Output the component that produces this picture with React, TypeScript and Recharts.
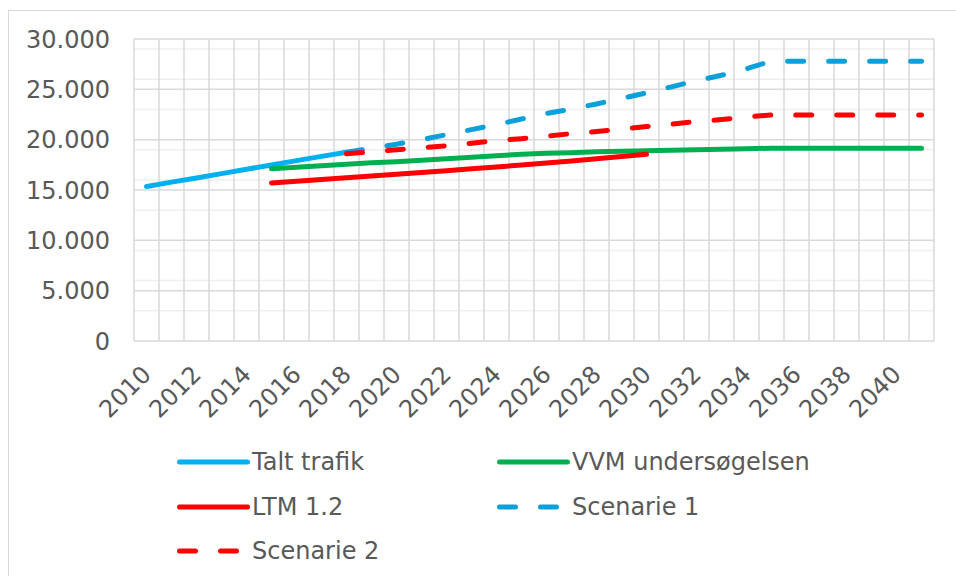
import { CartesianGrid, Line, LineChart, XAxis, YAxis } from "recharts";

const years = [
  2010, 2011, 2012, 2013, 2014, 2015, 2016, 2017, 2018, 2019, 2020, 2021, 2022, 2023, 2024, 2025,
  2026, 2027, 2028, 2029, 2030, 2031, 2032, 2033, 2034, 2035, 2036, 2037, 2038, 2039, 2040, 2041,
];
const xLabels = [2010, 2012, 2014, 2016, 2018, 2020, 2022, 2024, 2026, 2028, 2030, 2032, 2034, 2036, 2038, 2040];
const yTicks = [0, 5000, 10000, 15000, 20000, 25000, 30000];
const minorTicks = [
  1000, 2000, 3000, 4000, 6000, 7000, 8000, 9000, 11000, 12000, 13000, 14000, 16000, 17000, 18000,
  19000, 21000, 22000, 23000, 24000, 26000, 27000, 28000, 29000,
];

const _ = null;
const taltTrafik = [15350, 15780, 16200, 16630, 17060, 17490, 17920, 18340, 18750, _, _, _, _, _, _, _, _, _, _, _, _, _, _, _, _, _, _, _, _, _, _, _];
const vvm = [
  _, _, _, _, _, 17100, 17250, 17400, 17550, 17700, 17800, 17950, 18100, 18250, 18400, 18550,
  18650, 18700, 18800, 18850, 18900, 18950, 19000, 19050, 19100, 19150, 19150, 19150, 19150, 19150, 19150, 19150,
];
const ltm = [
  _, _, _, _, _, 15700, 15870, 16040, 16210, 16380, 16560, 16740, 16920, 17100, 17290, 17480,
  17680, 17890, 18100, 18320, 18550, _, _, _, _, _, _, _, _, _, _, _,
];
const scenarie1 = [
  _, _, _, _, _, _, _, _, 18750, 19150, 19550, 20000, 20500, 21000, 21500, 22050,
  22600, 23050, 23550, 24100, 24650, 25250, 25850, 26400, 27050, 27800, 27800, 27800, 27800, 27800, 27800, 27800,
];
const scenarie2 = [
  _, _, _, _, _, _, _, _, 18600, 18800, 19000, 19200, 19400, 19650, 19900, 20100,
  20350, 20600, 20800, 21050, 21300, 21550, 21800, 22000, 22250, 22450, 22450, 22450, 22450, 22450, 22450, 22450,
];

const series = [
  { key: "talt", name: "Talt trafik", color: "#00b0f0", dash: undefined },
  { key: "vvm", name: "VVM undersøgelsen", color: "#00b050", dash: undefined },
  { key: "ltm", name: "LTM 1.2", color: "#ff0000", dash: undefined },
  { key: "s1", name: "Scenarie 1", color: "#0aa0dc", dash: "16 25" },
  { key: "s2", name: "Scenarie 2", color: "#ff0000", dash: "16 25" },
];

const data = years.map((year, i) => ({
  year,
  talt: taltTrafik[i],
  vvm: vvm[i],
  ltm: ltm[i],
  s1: scenarie1[i],
  s2: scenarie2[i],
}));

const bandEdges = [...years.map((y) => y - 0.5), years[years.length - 1] + 0.5];

const FONT = "'DejaVu Sans', Verdana, sans-serif";
const TEXT = "#595959";

const fmt = (v: number) => String(v).replace(/\B(?=(\d{3})+(?!\d))/g, ".");

function YearTick({ x, y, payload }: any) {
  return (
    <g transform={`translate(${x},${y + 29})`}>
      <text textAnchor="end" transform="rotate(-45)" dy="0.35em" fill={TEXT} fontSize={24} fontFamily={FONT}>
        {payload.value}
      </text>
    </g>
  );
}

function LegendBox() {
  const pos = [
    { left: 177, top: 462 },
    { left: 497, top: 462 },
    { left: 177, top: 507 },
    { left: 497, top: 507 },
    { left: 177, top: 551 },
  ];
  return (
    <>
      {series.map((s, i) => (
        <div
          key={s.key}
          style={{ position: "absolute", left: pos[i].left, top: pos[i].top - 15, height: 30, display: "flex", alignItems: "center" }}
        >
          <svg width={76} height={10} style={{ marginLeft: -3 }}>
            <line x1={5.5} y1={5} x2={73.5} y2={5} stroke={s.color} strokeWidth={5} strokeLinecap="round" strokeDasharray={s.dash} />
          </svg>
          <span style={{ marginLeft: 2, fontFamily: FONT, fontSize: 24, color: TEXT, whiteSpace: "nowrap" }}>{s.name}</span>
        </div>
      ))}
    </>
  );
}

export default function App() {
  return (
    <div style={{ position: "fixed", left: 0, top: 0, width: 956, height: 576, overflow: "hidden", background: "#fff" }}>
      <div style={{ position: "absolute", left: 8, top: 10, width: 1000, height: 700, border: "1px solid #d9d9d9" }} />
      <div style={{ position: "absolute", left: 0, top: 0 }}>
        <LineChart width={956} height={576} data={data} margin={{ top: 39, right: 22, bottom: 175, left: 0 }}>
          <CartesianGrid horizontalValues={minorTicks} vertical={false} stroke="#efefef" strokeWidth={1.5} />
          <CartesianGrid horizontalValues={yTicks} verticalValues={bandEdges} stroke="#d9d9d9" strokeWidth={1.5} />
          <XAxis
            dataKey="year"
            type="number"
            domain={[2009.5, 2041.5]}
            ticks={xLabels}
            interval={0}
            axisLine={false}
            tickLine={false}
            tickSize={0}
            tickMargin={0}
            height={60}
            tick={<YearTick />}
          />
          <YAxis
            domain={[0, 30000]}
            ticks={yTicks}
            width={134}
            axisLine={false}
            tickLine={false}
            tickSize={0}
            tickMargin={24}
            tickFormatter={fmt}
            tick={{ fill: TEXT, fontSize: 24, fontFamily: FONT }}
          />
          {series.map((s) => (
            <Line
              key={s.key}
              dataKey={s.key}
              name={s.name}
              type="linear"
              stroke={s.color}
              strokeWidth={5}
              strokeLinecap="round"
              strokeDasharray={s.dash}
              dot={false}
              activeDot={false}
              isAnimationActive={false}
            />
          ))}
        </LineChart>
      </div>
      <LegendBox />
    </div>
  );
}
